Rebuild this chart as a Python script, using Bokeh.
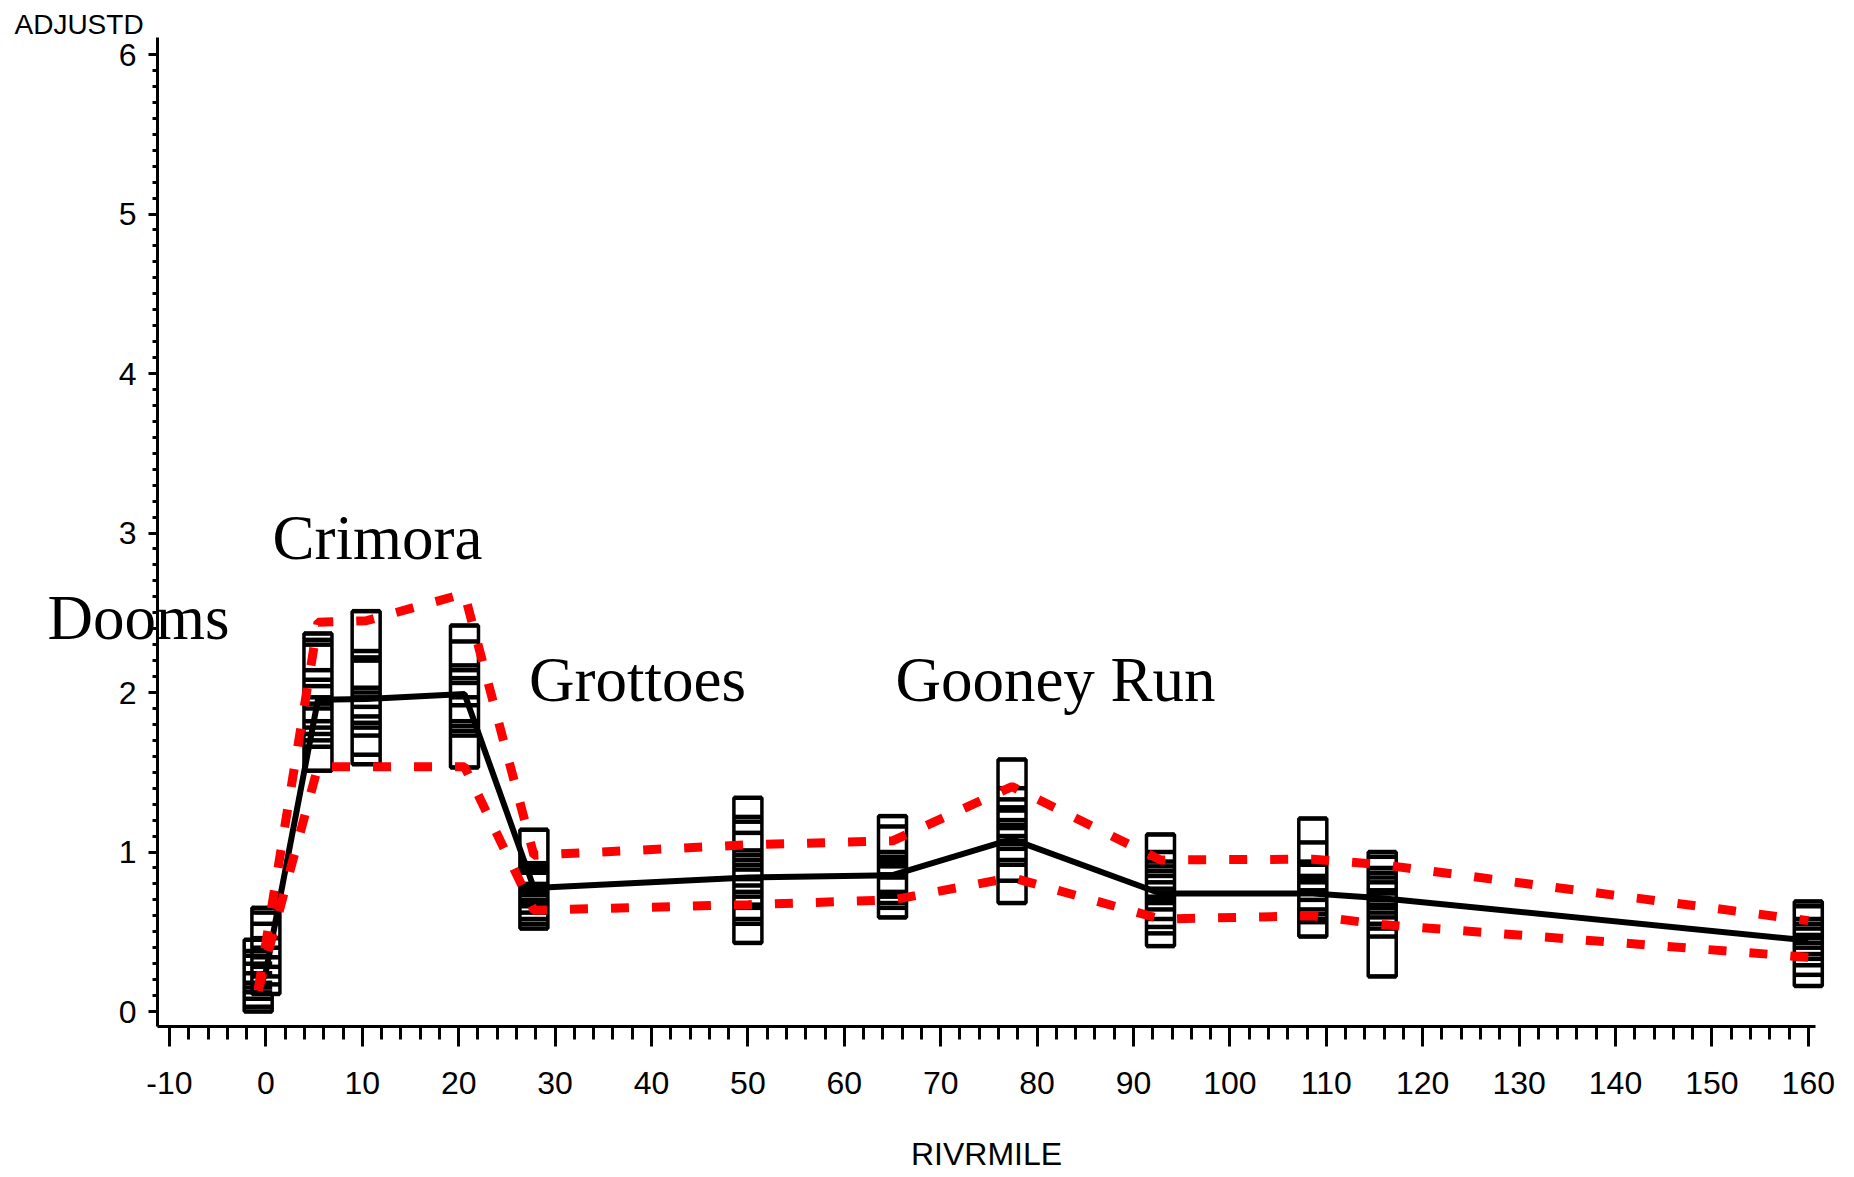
from bokeh.plotting import figure
from bokeh.models import Range1d, Label, FixedTicker, ColumnDataSource
from bokeh.embed import file_html
from bokeh.resources import INLINE

# ---- data ----
stations = [-0.8, 0.0, 5.4, 10.4, 20.6, 27.8, 50.0, 65.0, 77.4, 92.8, 108.6, 115.8, 160.0]

obs_m08 = [0.45, 0.38, 0.35, 0.30, 0.24, 0.18, 0.15, 0.12, 0.08, 0.03, 0.0]
obs_000 = [0.65, 0.62, 0.55, 0.46, 0.40, 0.34, 0.28, 0.22, 0.17, 0.11]
obs_054 = [2.37, 2.33, 2.30, 2.14, 2.08, 2.04, 1.97, 1.93, 1.90, 1.82, 1.78, 1.74, 1.70, 1.66, 1.51]
obs_104 = [2.51, 2.26, 2.22, 2.20, 2.03, 2.00, 1.97, 1.91, 1.85, 1.81, 1.78, 1.73, 1.61, 1.55]
obs_206 = [2.42, 2.32, 2.17, 2.14, 2.09, 2.06, 1.97, 1.92, 1.82, 1.79, 1.76, 1.73, 1.53]
obs_278 = [1.14, 0.93, 0.91, 0.89, 0.87, 0.80, 0.78, 0.76, 0.75, 0.73, 0.70, 0.68, 0.66, 0.62, 0.58, 0.55, 0.52]
obs_500 = [1.34, 1.22, 1.19, 1.12, 1.01, 0.98, 0.95, 0.92, 0.89, 0.84, 0.83, 0.79, 0.75, 0.72, 0.67, 0.65, 0.58, 0.55, 0.43]
obs_650 = [1.225, 1.16, 1.00, 0.97, 0.95, 0.93, 0.91, 0.86, 0.84, 0.75, 0.73, 0.72, 0.68, 0.65, 0.59]
obs_774 = [1.58, 1.40, 1.33, 1.28, 1.26, 1.20, 1.17, 1.15, 1.10, 1.07, 1.05, 1.02, 0.95, 0.92, 0.82, 0.68]
obs_928 = [1.11, 1.00, 0.94, 0.91, 0.88, 0.85, 0.81, 0.77, 0.72, 0.70, 0.68, 0.64, 0.58, 0.53, 0.49, 0.41]
obs_1086 = [1.21, 1.06, 0.94, 0.92, 0.85, 0.83, 0.81, 0.76, 0.74, 0.70, 0.64, 0.61, 0.58, 0.56, 0.47]
obs_1158 = [1.00, 0.97, 0.90, 0.87, 0.84, 0.81, 0.76, 0.74, 0.70, 0.67, 0.65, 0.62, 0.59, 0.55, 0.52, 0.47, 0.22]
obs_1600 = [0.69, 0.66, 0.58, 0.55, 0.52, 0.48, 0.46, 0.43, 0.40, 0.36, 0.33, 0.29, 0.23, 0.16]

observations = [obs_m08, obs_000, obs_054, obs_104, obs_206, obs_278, obs_500,
                obs_650, obs_774, obs_928, obs_1086, obs_1158, obs_1600]

mean_line = [0.12, 0.25, 1.955, 1.96, 1.99, 0.775, 0.84, 0.855, 1.08, 0.74, 0.74, 0.71, 0.445]
upper_band = [0.14, 0.43, 2.44, 2.45, 2.62, 0.98, 1.045, 1.07, 1.41, 0.95, 0.955, 0.92, 0.57]
lower_band = [0.13, 0.32, 1.535, 1.535, 1.535, 0.635, 0.67, 0.70, 0.84, 0.58, 0.60, 0.545, 0.34]

x_ticks = [-10, 0, 10, 20, 30, 40, 50, 60, 70, 80, 90, 100, 110, 120, 130, 140, 150, 160]
x_tick_labels = ["-10", "0", "10", "20", "30", "40", "50", "60", "70", "80", "90",
                 "100", "110", "120", "130", "140", "150", "160"]
y_ticks = [0, 1, 2, 3, 4, 5, 6]
y_tick_labels = ["0", "1", "2", "3", "4", "5", "6"]

place_names = ["Dooms", "Crimora", "Grottoes", "Gooney Run"]
place_x = [-22.66, 0.68, 27.3, 65.3]
place_y = [2.47, 2.97, 2.08, 2.08]

# axis extents (data units)
X_LO, X_HI = -11.245, 160.75
Y_LO, Y_HI = -0.094, 6.107

# ---- figure: the frame fills the whole canvas, axes sit at fixed locations ----
AXFONT = "Liberation Sans"
W, H = 1846, 1175
p = figure(width=W, height=H,
           x_range=Range1d(-27.531, -27.531 + W / 9.64),
           y_range=Range1d(6.3386 - H / 159.5, 6.3386),
           output_backend="svg", toolbar_location=None,
           min_border=0, min_border_left=0, min_border_right=0,
           min_border_top=0, min_border_bottom=0)
p.outline_line_color = None
p.xgrid.visible = False
p.ygrid.visible = False
p.background_fill_color = "white"
p.border_fill_color = "white"

# x axis
xa = p.xaxis[0]
xa.fixed_location = Y_LO
xa.bounds = (X_LO, X_HI)
xa.ticker = FixedTicker(ticks=x_ticks, minor_ticks=[v for v in range(-10, 161, 2)])
xa.major_label_overrides = {t: l for t, l in zip(x_ticks, x_tick_labels)}
xa.axis_line_width = 3
xa.major_tick_line_width = 3
xa.minor_tick_line_width = 3
xa.major_tick_out = 20
xa.major_tick_in = 0
xa.minor_tick_out = 13
xa.minor_tick_in = 0
xa.major_label_text_font = AXFONT
xa.major_label_text_font_size = "32px"
xa.major_label_text_color = "black"
xa.major_label_standoff = 26
xa.axis_label = "RIVRMILE"
xa.axis_label_text_font = AXFONT
xa.axis_label_text_font_size = "32px"
xa.axis_label_text_font_style = "normal"
xa.axis_label_text_color = "black"
xa.axis_label_standoff = 38

# y axis
ya = p.yaxis[0]
ya.fixed_location = X_LO
ya.bounds = (Y_LO, Y_HI)
ya.ticker = FixedTicker(ticks=y_ticks, minor_ticks=[i / 10 for i in range(0, 61)])
ya.major_label_overrides = {t: l for t, l in zip(y_ticks, y_tick_labels)}
ya.axis_line_width = 3
ya.major_tick_line_width = 3
ya.minor_tick_line_width = 3
ya.major_tick_out = 9
ya.major_tick_in = 0
ya.minor_tick_out = 5
ya.minor_tick_in = 0
ya.major_label_text_font = AXFONT
ya.major_label_text_font_size = "32px"
ya.major_label_text_color = "black"
ya.major_label_standoff = 12
ya.major_label_orientation = "horizontal"

# boxes spanning each station's observations
box_src = ColumnDataSource(dict(
    x=stations,
    yc=[(min(o) + max(o)) / 2 for o in observations],
    h=[max(o) - min(o) for o in observations],
))
p.rect(x="x", y="yc", width=28, height="h", width_units="screen", source=box_src,
       fill_color="white", line_color="black", line_width=3.5)

# one dash per observation
dx, dy = [], []
for s, o in zip(stations, observations):
    for v in o:
        dx.append(s)
        dy.append(v)
p.scatter(dx, dy, marker="dash", size=28, line_width=4.5, line_color="black")

# mean line and band
p.line(stations, mean_line, line_width=6, line_color="black")
p.line(stations, upper_band, line_width=9, line_color="#ff0000",
       line_dash="18 23", line_cap="butt")
p.line(stations, lower_band, line_width=9, line_color="#ff0000",
       line_dash="18 23", line_cap="butt")

# place names
for name, x, y in zip(place_names, place_x, place_y):
    p.add_layout(Label(x=x, y=y, text=name, text_font="Liberation Serif",
                       text_font_size="63px", text_color="black",
                       text_baseline="alphabetic", text_align="left"))

# y-axis title at top-left
p.add_layout(Label(x=-26.08, y=6.19, text="ADJUSTD", text_font=AXFONT,
                   text_font_size="28px", text_color="black",
                   text_baseline="middle", text_align="left"))

open("out.html", "w").write(file_html(p, INLINE))
